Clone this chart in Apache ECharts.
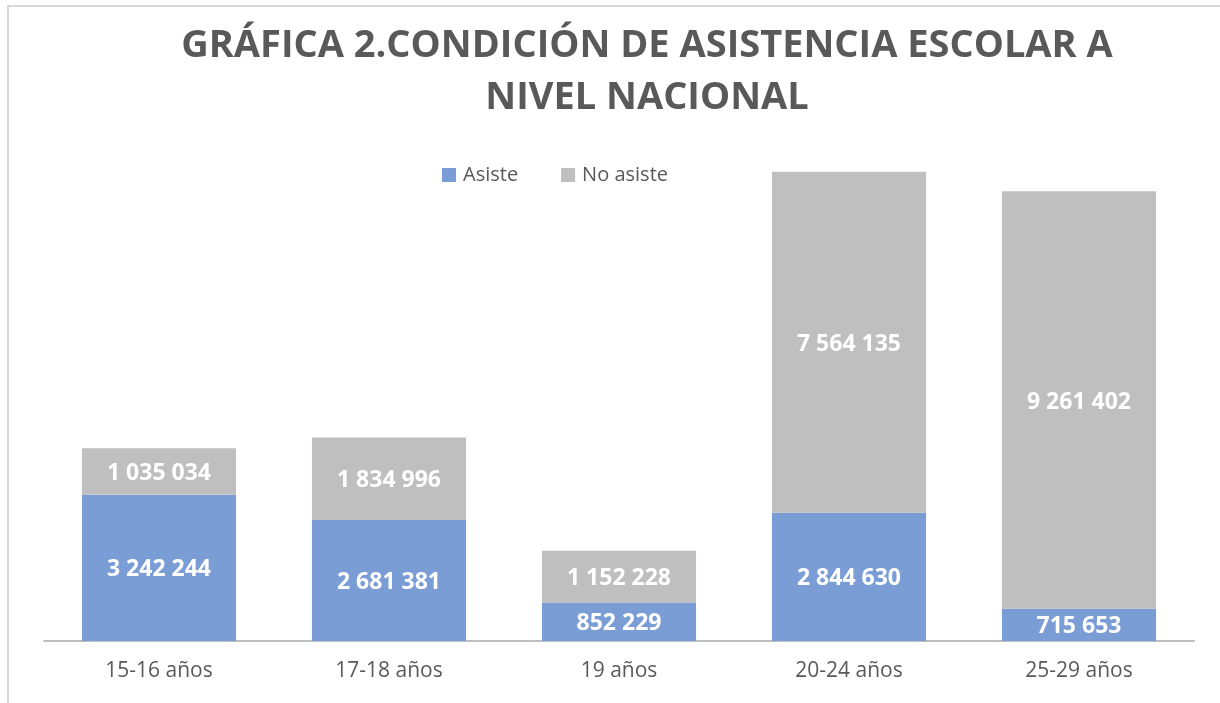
<!DOCTYPE html>
<html>
<head>
<meta charset="utf-8">
<script src="https://cdn.jsdelivr.net/npm/echarts@6/dist/echarts.min.js"></script>
<style>
  html, body { margin: 0; padding: 0; background: #fff; overflow: hidden; }
  #frame { position: absolute; left: 7px; top: 5px; width: 1400px; height: 900px; border: 2px solid #D9D9D9; }
  #chart { position: absolute; left: 0; top: 0; width: 1220px; height: 703px; }
</style>
</head>
<body>
<div id="frame"></div>
<div id="chart"></div>
<script>
const categories = ['15-16 años', '17-18 años', '19 años', '20-24 años', '25-29 años'];
const asiste = [3242244, 2681381, 852229, 2844630, 715653];
const noAsiste = [1035034, 1834996, 1152228, 7564135, 9261402];

// 3242244 -> "3 242 244"
const fmt = p => String(p.value).replace(/\B(?=(\d{3})+(?!\d))/g, ' ');

const labelStyle = {
    show: true,
    position: 'inside',
    offset: [0, 2],
    color: '#fff',
    fontFamily: 'Open Sans',
    fontWeight: 'bold',
    fontSize: 23,
    formatter: fmt
};

const chart = echarts.init(document.getElementById('chart'));
chart.setOption({
    animation: false,
    title: {
        text: 'GRÁFICA 2.CONDICIÓN DE ASISTENCIA ESCOLAR A\nNIVEL NACIONAL',
        left: 642,
        top: 15,
        textAlign: 'center',
        textStyle: {
            fontFamily: 'Open Sans',
            fontWeight: 'bold',
            fontSize: 38,
            color: '#595959',
            lineHeight: 52
        }
    },
    legend: {
        top: 160,
        left: 437,
        itemWidth: 14,
        itemHeight: 14,
        itemGap: 43,
        icon: 'rect',
        textStyle: { fontFamily: 'Open Sans', fontSize: 20, color: '#595959', padding: [0, 0, 0, 2] },
        data: ['Asiste', 'No asiste']
    },
    grid: { left: 44, right: 26, top: 100, bottom: 62 },
    xAxis: {
        type: 'category',
        data: categories,
        axisLine: { lineStyle: { color: '#BFBFBF', width: 2 } },
        axisTick: { show: false },
        axisLabel: { fontFamily: 'Open Sans', fontSize: 21, color: '#595959', margin: 20 }
    },
    yAxis: {
        type: 'value',
        min: 0,
        max: 12000000,
        show: false,
        splitLine: { show: false }
    },
    series: [
        {
            name: 'Asiste',
            type: 'bar',
            stack: 'total',
            barWidth: '67%',
            itemStyle: { color: '#7B9DD5' },
            label: labelStyle,
            data: asiste
        },
        {
            name: 'No asiste',
            type: 'bar',
            stack: 'total',
            itemStyle: { color: '#BFBFBF' },
            label: labelStyle,
            data: noAsiste
        }
    ]
});
</script>
</body>
</html>
